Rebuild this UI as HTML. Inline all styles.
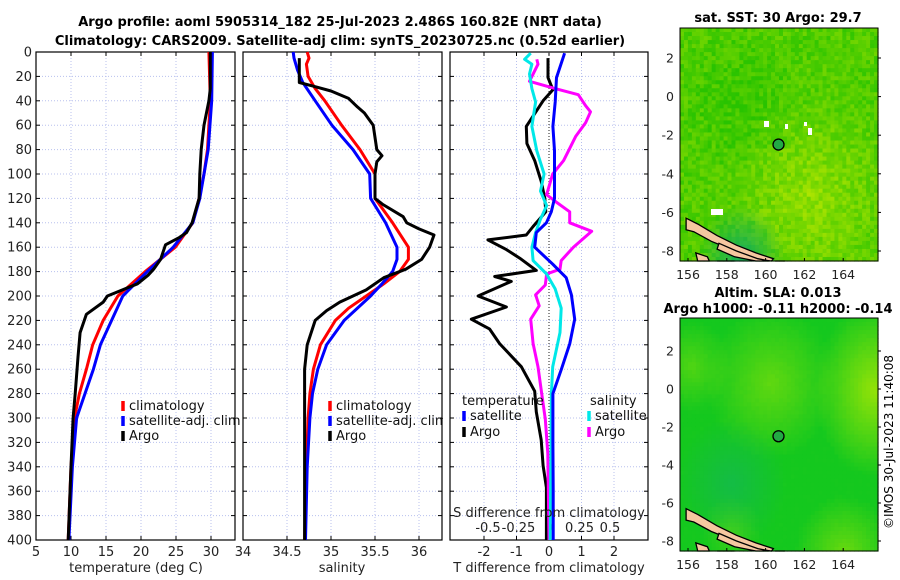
<!DOCTYPE html>
<html><head><meta charset="utf-8">
<style>
html,body{margin:0;padding:0;background:#fff;}
svg{display:block;font-family:"DejaVu Sans","Liberation Sans",sans-serif;}
</style></head>
<body>
<svg id="chart" width="900" height="580" viewBox="0 0 900 580">
<g id="titles" font-weight="bold" font-size="13" text-anchor="middle" fill="#000">
<text x="340" y="26">Argo profile: aoml 5905314_182 25-Jul-2023 2.486S 160.82E (NRT data)</text>
<text x="340" y="45">Climatology: CARS2009. Satellite-adj clim: synTS_20230725.nc (0.52d earlier)</text>
<text x="778" y="22">sat. SST: 30 Argo: 29.7</text>
<text x="778" y="297">Altim. SLA: 0.013</text>
<text x="778" y="313">Argo h1000: -0.11 h2000: -0.14</text>
</g>
<text x="893" y="442" font-size="12" text-anchor="middle" transform="rotate(-90 893 442)">©IMOS 30-Jul-2023 11:40:08</text>
<g id="p1"></g><g id="p2"></g><g id="p3"></g>
<g id="m1"></g><g id="m2"></g>
</svg>
<script>
// ---- data ----
const depthTicks=[0,20,40,60,80,100,120,140,160,180,200,220,240,260,280,300,320,340,360,380,400];
const tempTicks=[5,10,15,20,25,30];
const salTicks=[34,34.5,35,35.5,36];
const dTTicks=[-2,-1,0,1,2];
const dSTicks=[-0.5,-0.25,0,0.25,0.5];
const dSTickLabels=["-0.5","-0.25","0","0.25","0.5"];

const tClimDepth=[0,40,80,100,120,140,160,180,200,220,240,260,280,300,340,400];
const tClimVal=[29.7,29.9,29.5,29.0,28.3,27.4,24.9,20.6,16.7,14.6,13.1,12.2,11.2,10.5,10.0,9.6];
const tSatDepth=[0,40,80,100,120,140,160,180,200,220,240,260,280,300,340,400];
const tSatVal=[30.2,30.1,29.6,29.0,28.4,27.4,24.6,20.9,17.4,15.8,14.2,13.2,12.0,10.8,10.2,9.7];
const tArgoDepth=[0,30,40,60,80,100,120,130,140,148,152,158,170,178,183,190,200,205,215,230,250,280,300,340,400];
const tArgoVal=[29.9,29.9,29.7,29.0,28.6,28.4,28.3,27.8,27.3,26.5,25.5,23.5,22.8,21.8,21.0,19.5,15.2,14.6,12.2,11.3,11.0,10.6,10.3,10.0,9.6];

const sClimDepth=[0,5,10,20,30,40,60,80,100,120,140,160,170,180,190,200,210,220,240,260,280,300,340,400];
const sClimVal=[34.73,34.75,34.72,34.74,34.82,34.93,35.12,35.33,35.5,35.5,35.7,35.88,35.88,35.78,35.6,35.4,35.2,35.05,34.88,34.8,34.76,34.74,34.72,34.7];
const sSatDepth=[0,5,15,25,40,60,80,100,120,140,160,170,180,190,200,220,240,260,280,300,340,400];
const sSatVal=[34.57,34.58,34.62,34.68,34.82,35.01,35.25,35.44,35.45,35.62,35.75,35.75,35.7,35.58,35.45,35.15,34.95,34.85,34.79,34.76,34.73,34.71];
const sArgoDepth=[5,25,28,32,38,45,50,60,80,85,90,100,120,125,135,140,145,150,160,170,178,185,195,205,212,220,240,260,300,400];
const sArgoVal=[34.64,34.64,34.8,35.0,35.2,35.3,35.38,35.48,35.52,35.58,35.52,35.5,35.5,35.59,35.82,35.86,36.0,36.17,36.12,36.03,35.85,35.6,35.4,35.1,34.95,34.82,34.73,34.7,34.7,34.7];

const dTSatDepth=[1,21,41,61,81,100,120,131,140,148,160,174,185,199,219,239,260,280,320,360,400];
const dTSatVal=[0.48,0.23,0.19,0.12,0.17,0.17,0.17,0.07,-0.08,-0.39,-0.44,0.12,0.53,0.69,0.79,0.64,0.38,0.12,0.12,0.13,0.13];
const dTArgoDepth=[5,21,31,40,61,75,89,106,120,131,143,150,154,162,169,179,184,188,200,209,219,227,239,258,278,295,318,339,357,400];
const dTArgoVal=[-0.03,-0.03,0.12,-0.18,-0.7,-0.68,-0.44,-0.24,-0.13,-0.1,-0.49,-0.7,-1.88,-1.31,-0.9,-0.39,-1.67,-1.16,-2.18,-1.31,-2.39,-1.83,-1.52,-0.85,-0.44,-0.39,-0.24,-0.18,-0.08,-0.08];
const dSSatDepth=[1,6,10,18,30,41,61,81,100,114,126,137,148,160,171,182,194,210,230,258,280,400];
const dSSatVal=[-0.15,-0.2,-0.14,-0.16,-0.14,-0.11,-0.14,-0.1,-0.04,-0.07,-0.02,-0.07,-0.11,-0.14,-0.13,-0.02,0.05,0.1,0.09,0.03,0.02,0.01];
const dSArgoDepth=[6,10,24,30,35,44,49,58,69,81,89,100,117,123,131,140,147,160,171,178,182,191,199,208,219,239,258,280,301,329,400];
const dSArgoVal=[-0.1,-0.09,-0.16,0.05,0.24,0.3,0.34,0.3,0.22,0.16,0.12,0.03,-0.02,0.06,0.17,0.17,0.35,0.2,0.1,0.09,-0.02,-0.03,-0.11,-0.08,-0.15,-0.13,-0.09,-0.06,-0.03,-0.01,0];

const lonTicks=[156,158,160,162,164];
const latTicks=[2,0,-2,-4,-6,-8];

// ---- helpers ----
const NS="http://www.w3.org/2000/svg";
function mk(tag,attrs,parent){const e=document.createElementNS(NS,tag);for(const k in attrs)e.setAttribute(k,attrs[k]);parent.appendChild(e);return e;}
const TOP=52,BOT=540;
const yD=d=>TOP+(BOT-TOP)*d/400;

function panel(g,x0,x1,xs,xticks,xlabels,showDepthLabels,gridXs){
  depthTicks.forEach(d=>{const l=mk('line',{x1:x0,x2:x1,y1:yD(d),y2:yD(d),stroke:'#b8c0ee','stroke-dasharray':'1,2','stroke-width':1},g);
    });
  gridXs.forEach(v=>{const l=mk('line',{x1:xs(v),x2:xs(v),y1:TOP,y2:BOT,stroke:'#b8c0ee','stroke-dasharray':'1,2','stroke-width':1},g);
    });
  const r=mk('rect',{x:x0,y:TOP,width:x1-x0,height:BOT-TOP,fill:'none',stroke:'#000','stroke-width':1.2},g);
  
  depthTicks.forEach(d=>{
    mk('line',{x1:x0,x2:x0+4,y1:yD(d),y2:yD(d),stroke:'#000'},g);
    mk('line',{x1:x1,x2:x1-4,y1:yD(d),y2:yD(d),stroke:'#000'},g);
    if(showDepthLabels){const t=mk('text',{x:x0-4,y:yD(d)+4.5,'font-size':13,'text-anchor':'end',fill:'#222'},g);t.textContent=d;
      }
  });
  xticks.forEach((v,i)=>{
    mk('line',{x1:xs(v),x2:xs(v),y1:BOT,y2:BOT-4,stroke:'#000'},g);
    mk('line',{x1:xs(v),x2:xs(v),y1:TOP,y2:TOP+4,stroke:'#000'},g);
    if(xlabels){const t=mk('text',{x:xs(v),y:BOT+16,'font-size':13,'text-anchor':'middle',fill:'#222'},g);t.textContent=xlabels[i];
      }
  });
}
function line(g,depths,vals,xs,color,name){
  const pts=depths.map((d,i)=>xs(vals[i]).toFixed(1)+','+yD(d).toFixed(1)).join(' ');
  const p=mk('polyline',{points:pts,fill:'none',stroke:color,'stroke-width':3,'stroke-linejoin':'round'},g);
  
}
function legend(g,x,y,color,label,name){
  if(color){const l=mk('line',{x1:x,x2:x,y1:y-9,y2:y+1,stroke:color,'stroke-width':3.5},g);
    }
  const t=mk('text',{x:x+6,y:y,'font-size':13,fill:'#111'},g);t.textContent=label;
  
}

// panel 1 temperature
const g1=document.getElementById('p1');
const xT=v=>36+(v-5)*7;
panel(g1,36,235,xT,tempTicks,tempTicks.map(String),true,tempTicks.slice(1));
line(g1,tClimDepth,tClimVal,xT,'#ff0000','temp-climatology-line');
line(g1,tSatDepth,tSatVal,xT,'#0000ff','temp-satellite-line');
line(g1,tArgoDepth,tArgoVal,xT,'#000','temp-argo-line');
{const t=mk('text',{x:136,y:572,'font-size':13,'text-anchor':'middle',fill:'#222'},g1);t.textContent='temperature (deg C)';
}
legend(g1,123,410,'#ff0000','climatology','legend-climatology');
legend(g1,123,425,'#0000ff','satellite-adj. clim','legend-satellite-adj');
legend(g1,123,440,'#000','Argo','legend-argo');

// panel 2 salinity
const g2=document.getElementById('p2');
const xS=v=>243+(v-34)*88;
panel(g2,243,442,xS,salTicks,salTicks.map(String),false,salTicks.slice(1));
line(g2,sClimDepth,sClimVal,xS,'#ff0000','sal-climatology-line');
line(g2,sSatDepth,sSatVal,xS,'#0000ff','sal-satellite-line');
line(g2,sArgoDepth,sArgoVal,xS,'#000','sal-argo-line');
{const t=mk('text',{x:342,y:572,'font-size':13,'text-anchor':'middle',fill:'#222'},g2);t.textContent='salinity';
}
legend(g2,330,410,'#ff0000','climatology','legend-climatology-2');
legend(g2,330,425,'#0000ff','satellite-adj. clim','legend-satellite-adj-2');
legend(g2,330,440,'#000','Argo','legend-argo-2');
{const r=mk('rect',{x:443,y:412,width:6.5,height:16,fill:'#fff'},g2);}

// panel 3 differences
const g3=document.getElementById('p3');
const x0d=549;
const xdT=v=>x0d+v*32.5;
const xdS=v=>x0d+v*122;
panel(g3,450,648,xdT,dTTicks,dTTicks.map(String),false,dTTicks);
dSTicks.forEach((v,i)=>{const t=mk('text',{x:xdS(v),y:532,'font-size':13,'text-anchor':'middle',fill:'#222'},g3);t.textContent=dSTickLabels[i];
  });
{const l=mk('line',{x1:x0d,x2:x0d,y1:TOP,y2:BOT,stroke:'#444','stroke-dasharray':'1,2','stroke-width':1.2},g3);
}
line(g3,dTArgoDepth,dTArgoVal,xdT,'#000','dT-argo-line');
line(g3,dSArgoDepth,dSArgoVal,xdS,'#ff00ff','dS-argo-line');
line(g3,dSSatDepth,dSSatVal,xdS,'#00e8e8','dS-satellite-line');
line(g3,dTSatDepth,dTSatVal,xdT,'#0000ff','dT-satellite-line');
{const t=mk('text',{x:549,y:517,'font-size':13,'text-anchor':'middle',fill:'#222'},g3);t.textContent='S difference from climatology';

const t2=mk('text',{x:549,y:572,'font-size':13,'text-anchor':'middle',fill:'#222'},g3);t2.textContent='T difference from climatology';
}
legend(g3,456,405,null,'temperature','legend-temperature-header');
legend(g3,464,420,'#0000ff','satellite','legend-t-satellite');
legend(g3,464,436,'#000','Argo','legend-t-argo');
legend(g3,584,405,null,'salinity','legend-salinity-header');
legend(g3,589,420,'#00e8e8','satellite','legend-s-satellite');
legend(g3,589,436,'#ff00ff','Argo','legend-s-argo');

// maps
function hash(i,j,s){let h=(i*374761393+j*668265263+s*982451653)>>>0;h=(h^(h>>>13))*1274126177>>>0;return ((h^(h>>>16))>>>0)/4294967296;}
const bump=(u,v,cu,cv,r)=>Math.max(0,1-Math.hypot(u-cu,v-cv)/r);
function map(g,X0,Y0,X1,Y1,yLat2,yLatM8,kind){
  const xl=lon=>688+(lon-156)*19.4;
  const yl=lat=>yLat2+(2-lat)*(yLatM8-yLat2)/10;
  const nx=50,ny=58;
  const cw=(X1-X0)/nx,ch=(Y1-Y0)/ny;
  for(let i=0;i<nx;i++)for(let j=0;j<ny;j++){
    const u=i/nx,v=j/ny;let r,gg,b;
    if(kind===1){
      let t=0.3+0.45*bump(u,v,0.65,0.72,0.45)+(hash(i,j,1)-0.5)*0.45-0.2*bump(u,v,0.3,0.3,0.35);
      t=Math.max(0,Math.min(1,t));
      r=Math.round(40+t*140);gg=Math.round(195+t*35);b=0;
      const tl=bump(u,v,0.3,0.97,0.22);
      if(tl>0){r=Math.round(r*(1-tl)+20*tl);gg=Math.round(gg*(1-tl)+175*tl);b=Math.round(90*tl);}
    } else {
      let t=0.75*bump(u,(v-0.3)*0.8+0.3,0.97,0.3,0.3)+0.45*bump(u,v,0.45,0.27,0.33)+0.35*bump(u,v,0.05,0.2,0.2)+0.5*bump(u,v,0.82,1.0,0.25)+0.3*bump(u,v,0.25,0.9,0.15)+(hash(i,j,3)-0.5)*0.03;
      t=Math.max(0,Math.min(1,t));
      r=Math.round(20+t*170);gg=Math.round(200+t*35);b=Math.round(30-t*30);
      const dk=bump(u,v,0.25,0.7,0.28);
      if(dk>0){r=Math.round(r*(1-dk*0.6)+20*dk*0.6);gg=Math.round(gg*(1-dk*0.6)+180*dk*0.6);b=Math.round(b+40*dk);}
    }
    mk('rect',{x:(X0+i*cw).toFixed(2),y:(Y0+j*ch).toFixed(2),width:(cw+0.6).toFixed(2),height:(ch+0.6).toFixed(2),fill:`rgb(${r},${gg},${b})`},g);
  }
  const isl=[[[155.9,-6.3],[156.5,-6.6],[157.5,-7.2],[158.5,-7.7],[159.5,-8.1],[160.4,-8.4],[160.3,-8.6],[159.3,-8.4],[158.2,-7.9],[157.2,-7.5],[156.3,-7.0],[155.9,-6.9]],
             [[157.6,-7.6],[158.5,-8.0],[159.6,-8.4],[160.2,-8.8],[159.5,-8.8],[158.4,-8.3],[157.5,-7.9]],
             [[156.4,-8.1],[157.0,-8.3],[157.1,-9],[156.5,-9]],[[157.5,-8.6],[158.4,-8.8],[158.3,-9],[157.6,-9]],[[160.6,-8.6],[160.9,-8.7],[161,-9],[160.5,-9]]];
  isl.forEach(poly=>{
    const d='M'+poly.map(p=>Math.max(X0,xl(p[0])).toFixed(1)+','+Math.min(Y1,yl(p[1])).toFixed(1)).join(' L')+' Z';
    const p=mk('path',{d:d,fill:'#f5c7a0',stroke:'#000','stroke-width':1.3},g);
    
  });
  const fr=mk('rect',{x:X0,y:Y0,width:X1-X0,height:Y1-Y0,fill:'none',stroke:'#000','stroke-width':1},g);
  
  lonTicks.forEach(l=>{mk('line',{x1:xl(l),x2:xl(l),y1:Y1,y2:Y1-3,stroke:'#000'},g);
    const t=mk('text',{x:xl(l),y:Y1+18,'font-size':12.5,'text-anchor':'middle',fill:'#222'},g);t.textContent=l;
    });
  latTicks.forEach(l=>{mk('line',{x1:X1,x2:X1+3,y1:yl(l),y2:yl(l),stroke:'#000'},g);
    const t=mk('text',{x:X0-6,y:yl(l)+4.5,'font-size':12.5,'text-anchor':'end',fill:'#222'},g);t.textContent=l;
    });
  const c=mk('circle',{cx:xl(160.82)-3,cy:yl(-2.486),r:5.5,fill:'#22aa44',stroke:'#000','stroke-width':1.3},g);
  
}
const m1=document.getElementById('m1');

map(m1,680,28,878,261,58,251,1);
[[764,121,5,6],[785,124,3,5],[804,122,3,4],[808,128,4,7],[711,209,12,6]].forEach(p=>{const r=mk('rect',{x:p[0],y:p[1],width:p[2],height:p[3],fill:'#fff'},m1);
  });
const m2=document.getElementById('m2');

map(m2,680,318,878,551,351,541,2);
</script>
</body></html>
